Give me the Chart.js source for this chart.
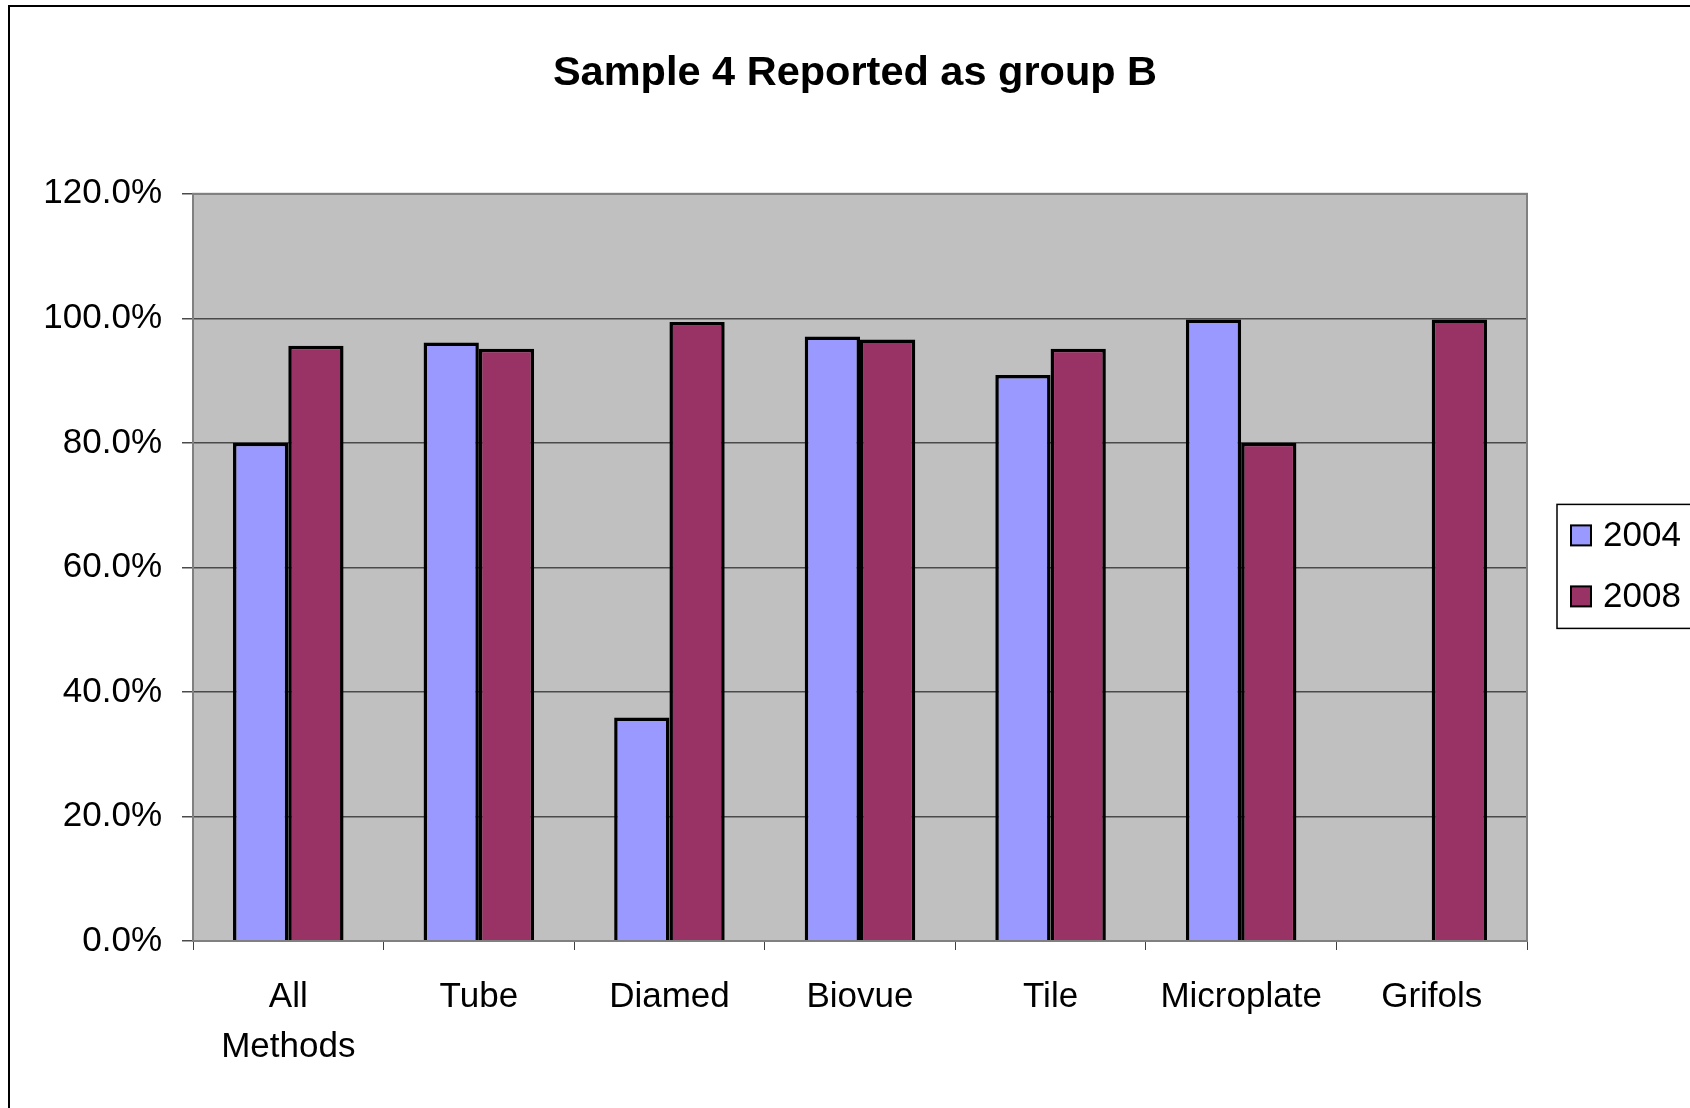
<!DOCTYPE html>
<html>
<head>
<meta charset="utf-8">
<title>Sample 4 Reported as group B</title>
<script src="https://cdn.jsdelivr.net/npm/chart.js@4.4.1/dist/chart.umd.min.js"></script>
<style>
  html, body { margin: 0; padding: 0; background: #fff; }
  #wrap { width: 1690px; height: 1108px; }
</style>
</head>
<body>
<div id="wrap"><canvas id="myChart" width="1690" height="1108"></canvas></div>
<script>
// chart data
const chartTitle = 'Sample 4 Reported as group B';
const methods = [['All', 'Methods'], 'Tube', 'Diamed', 'Biovue', 'Tile', 'Microplate', 'Grifols'];
const years = ['2004', '2008'];
const pct2004 = [80.0, 96.1, 35.9, 97.1, 90.9, 99.8, null];
const pct2008 = [95.6, 95.1, 99.4, 96.6, 95.1, 80.0, 99.8];
const yTicks = [0, 20, 40, 60, 80, 100, 120];

const colors = ['#9999FF', '#993366'];
const font = "'Liberation Sans', Arial, sans-serif";

// grey plot background, outer frame and boxed legend
const excelLook = {
    id: 'excelLook',
    beforeDraw(chart) {
        const { ctx, chartArea: a } = chart;
        ctx.save();
        ctx.fillStyle = '#fff';
        ctx.fillRect(0, 0, chart.width, chart.height);
        ctx.fillStyle = '#C0C0C0';
        ctx.fillRect(a.left, a.top, a.right - a.left, a.bottom - a.top);
        ctx.restore();
    },
    afterDraw(chart) {
        const { ctx, chartArea: a } = chart;
        ctx.save();
        // plot frame
        ctx.strokeStyle = '#808080';
        ctx.lineWidth = 2;
        ctx.strokeRect(a.left, a.top, a.right - a.left, a.bottom - a.top);
        // outer chart border
        ctx.strokeStyle = '#000';
        ctx.lineWidth = 2;
        ctx.beginPath();
        ctx.moveTo(9, chart.height);
        ctx.lineTo(9, 6);
        ctx.lineTo(chart.width, 6);
        ctx.stroke();

        // legend
        const lx = a.right + 30, cy = (a.top + a.bottom) / 2;
        const boxTop = cy - 63, boxH = 124;
        ctx.fillStyle = '#fff';
        ctx.fillRect(lx, boxTop, chart.width - lx, boxH);
        ctx.strokeStyle = '#000';
        ctx.lineWidth = 1.5;
        ctx.strokeRect(lx, boxTop, chart.width - lx + 5, boxH);
        chart.data.datasets.forEach((ds, i) => {
            const y = boxTop + 31 + i * 61;
            ctx.fillStyle = ds.backgroundColor;
            ctx.fillRect(lx + 14, y - 10, 20, 20);
            ctx.strokeStyle = '#000';
            ctx.lineWidth = 2;
            ctx.strokeRect(lx + 14, y - 10, 20, 20);
            ctx.fillStyle = '#000';
            ctx.font = '35px ' + font;
            ctx.textBaseline = 'middle';
            ctx.textAlign = 'left';
            ctx.fillText(ds.label, lx + 46, y + 1);
        });
        ctx.restore();
    }
};

const ctx = document.getElementById('myChart').getContext('2d');
const myChart = new Chart(ctx, {
    type: 'bar',
    data: {
        labels: methods,
        datasets: [
            {
                label: years[0],
                data: pct2004,
                backgroundColor: colors[0],
                borderColor: '#000',
                borderWidth: 3.5
            },
            {
                label: years[1],
                data: pct2008,
                backgroundColor: colors[1],
                borderColor: '#000',
                borderWidth: 3.5
            }
        ]
    },
    options: {
        responsive: false,
        animation: false,
        layout: {
            padding: { left: 20, right: 0, top: 0, bottom: 0 }
        },
        datasets: {
            bar: {
                categoryPercentage: 0.58,
                barPercentage: 1.0
            }
        },
        plugins: {
            legend: { display: false },
            tooltip: { enabled: false },
            title: {
                display: true,
                text: chartTitle,
                color: '#000',
                font: { family: font, size: 41.5, weight: 'bold' },
                padding: { top: 49, bottom: 95 }
            }
        },
        scales: {
            x: {
                offset: true,
                grid: {
                    offset: true,
                    drawOnChartArea: false,
                    drawTicks: true,
                    tickLength: 9,
                    color: '#404040'
                },
                border: { display: false },
                ticks: {
                    color: '#000',
                    padding: 22,
                    maxRotation: 0,
                    autoSkip: false,
                    font: { family: font, size: 35, lineHeight: 1.43 }
                },
                afterFit(scale) { scale.height = 167; }
            },
            y: {
                min: yTicks[0],
                max: yTicks[yTicks.length - 1],
                afterBuildTicks(scale) {
                    scale.ticks = yTicks.map(v => ({ value: v }));
                },
                grid: {
                    color: '#4a4a4a',
                    lineWidth: 1.5,
                    tickLength: 11
                },
                border: { display: false },
                ticks: {
                    color: '#000',
                    padding: 20,
                    font: { family: font, size: 35 },
                    callback: v => v.toFixed(1) + '%'
                },
                afterFit(scale) { scale.width = 173; }
            },
            // empty axis that reserves room for the legend on the right
            legendSpace: {
                type: 'linear',
                position: 'right',
                grid: { display: false },
                border: { display: false },
                ticks: { display: false },
                afterFit(scale) { scale.width = 163; }
            }
        }
    },
    plugins: [excelLook]
});
</script>
</body>
</html>
